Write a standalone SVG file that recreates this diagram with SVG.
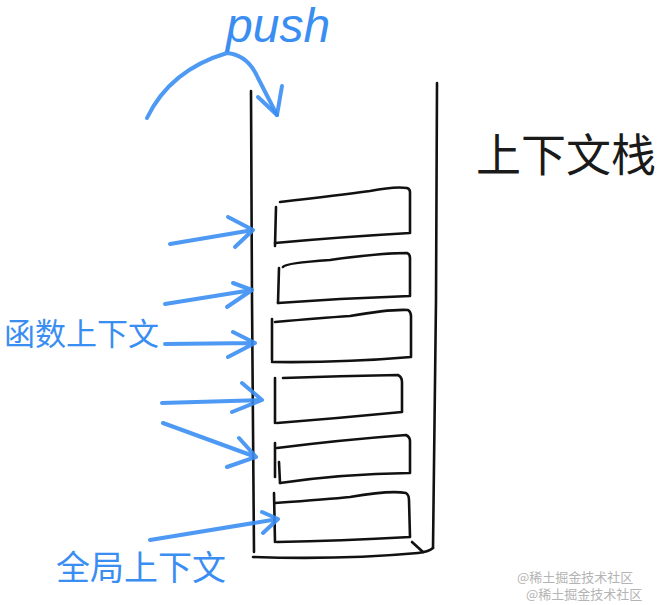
<svg xmlns="http://www.w3.org/2000/svg" width="662" height="605" viewBox="0 0 662 605">
<style>
.ink{fill:none;stroke:#111;stroke-width:2.6;stroke-linecap:round;stroke-linejoin:round}
.blue{fill:none;stroke:#3a8ef2;stroke-width:4;stroke-linecap:round;stroke-linejoin:round;opacity:0.9}
.bt{fill:#3a8ef2;font-family:"Liberation Sans","Noto Sans CJK SC",sans-serif}
.kt{fill:#1a1a1a;font-family:"Noto Sans CJK SC",sans-serif}
.wm{fill:#b4b4b4;font-family:"Noto Sans CJK SC",sans-serif;font-size:13px}
</style>
<rect width="662" height="605" fill="#ffffff"/>
<g id="stack-container">
<path class="ink" d="M251,91 L252,300 L254,552"/>
<path class="ink" d="M437,83 L436,300 L433,548"/>
<path class="ink" d="M253,557 Q340,560 418,553 Q428,552 433,548"/>
<path class="ink" d="M412,542 L423,552"/>
</g>
<g id="frame-1">
<path class="ink" d="M280,202 Q340,195 370,191 Q395,186 407,188 Q410,189 410,192 L410,233 Q340,237 275,243"/>
<path class="ink" d="M276,207 L275,246"/>
</g>
<g id="frame-2">
<path class="ink" d="M283,267 Q285,263 330,260 Q380,253 407,253 Q410,254 410,258 L410,296 L340,299 L278,303"/>
<path class="ink" d="M279,268 L278,303"/>
</g>
<g id="frame-3">
<path class="ink" d="M275,322 Q320,318 350,316 Q390,309 408,310 Q411,312 411,316 L411,357 Q340,363 272,362"/>
<path class="ink" d="M272,319 L272,360"/>
</g>
<g id="frame-4">
<path class="ink" d="M283,378 Q340,376 398,375 Q402,377 402,382 L402,412 Q340,418 277,423"/>
<path class="ink" d="M275,378 L275,423"/>
</g>
<g id="frame-5">
<path class="ink" d="M277,448 Q340,440 406,435 Q410,437 410,441 L410,473 Q340,474 280,483"/>
<path class="ink" d="M279,462 L280,483"/>
<path class="ink" d="M275,443 L275,477"/>
</g>
<g id="frame-6">
<path class="ink" d="M275,503 Q330,499 350,497 Q390,490 406,493 Q409,495 409,500 L410,537 Q340,541 277,542"/>
<path class="ink" d="M274,493 L275,542"/>
</g>
<g id="label-push">
<text class="bt" x="226" y="42" font-size="48" font-style="italic">push</text>
</g>
<g id="label-stack">
<text class="kt" x="476" y="172" font-size="45">上下文栈</text>
</g>
<g id="label-function-context">
<text class="bt" x="4" y="345" font-size="31">函数上下文</text>
</g>
<g id="label-global-context">
<text class="bt" x="56" y="580" font-size="34">全局上下文</text>
</g>
<g id="connectors">
<path class="blue" d="M147,118 Q170,70 227,53 Q248,55 258,78 L277,115"/>
<path class="blue" d="M258,97 L277,115 L282,86"/>
<path class="blue" d="M170,244 L253,230 M228,217 L253,230 L235,247"/>
<path class="blue" d="M165,304 L252,290 M233,283 L252,290 L227,307"/>
<path class="blue" d="M165,344 L255,343 M233,332 L255,343 L228,357"/>
<path class="blue" d="M162,403 L262,400 M242,383 L262,400 L232,412"/>
<path class="blue" d="M163,423 L256,457 M239,438 L256,457 L227,467"/>
<path class="blue" d="M150,540 L278,519 M262,512 L278,519 L263,533"/>
</g>
<g id="watermark">
<text class="wm" x="517" y="582">@稀土掘金技术社区</text>
<text class="wm" x="526" y="599">@稀土掘金技术社区</text>
</g>
</svg>
